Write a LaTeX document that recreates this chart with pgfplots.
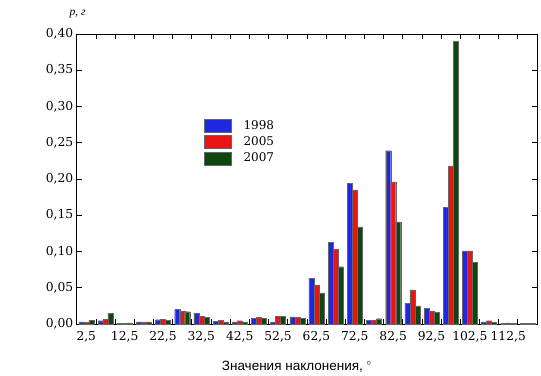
\documentclass[border=0pt]{standalone}
\usepackage{pgfplots}
\pgfplotsset{compat=1.18}
\usepackage{fontspec}
\newfontfamily\cyrsans{Liberation Sans}
\newfontfamily\cyrserif{Liberation Serif}
\newfontfamily\numserif{DejaVu Serif}
\definecolor{cblue}{RGB}{30,40,225}
\definecolor{cred}{RGB}{235,20,20}
\definecolor{cgreen}{RGB}{15,70,15}
\pgfplotstableread{
x b r g
2.5 0.003 0.0025 0.005
7.5 0.0045 0.0065 0.0147
12.5 0.001 0.001 0.0015
17.5 0.003 0.003 0.003
22.5 0.006 0.0065 0.005
27.5 0.020 0.0175 0.017
32.5 0.015 0.011 0.0092
37.5 0.004 0.0055 0.003
42.5 0.003 0.0045 0.003
47.5 0.0075 0.0092 0.0074
52.5 0.003 0.0106 0.0106
57.5 0.010 0.009 0.008
62.5 0.063 0.054 0.043
67.5 0.113 0.103 0.079
72.5 0.194 0.185 0.134
77.5 0.005 0.005 0.0073
82.5 0.239 0.196 0.141
87.5 0.0285 0.047 0.025
92.5 0.0215 0.018 0.016
97.5 0.161 0.218 0.390
102.5 0.101 0.101 0.085
107.5 0.003 0.0045 0.002
112.5 0.001 0.0015 0.001
117.5 0.0005 0.0005 0.0005
}\datatab
\pgfplotsset{mylegend/.style={legend image code/.code={\fill[##1] (0pt,-6.5pt) rectangle (27pt,6.5pt);}}}
\begin{document}
\begin{tikzpicture}
\path[use as bounding box] (0,0) rectangle (541pt,375pt);
\begin{axis}[name=ax,
  at={(76.7pt,51pt)}, anchor=south west,
  scale only axis, width=460.3pt, height=290pt,
  xmin=0, xmax=120, ymin=0, ymax=0.4,
  ybar=0pt, bar width=5pt,
  axis line style={black, line width=0.8pt},
  xtick={0,5,...,120}, xticklabels={},
  extra x ticks={2.5,12.5,22.5,32.5,42.5,52.5,62.5,72.5,82.5,92.5,102.5,112.5},
  extra x tick labels={{2,5},{12,5},{22,5},{32,5},{42,5},{52,5},{62,5},{72,5},{82,5},{92,5},{102,5},{112,5}},
  extra x tick style={major tick length=0pt},
  ytick={0,0.05,0.1,0.15,0.2,0.25,0.3,0.35,0.4},
  yticklabel style={/pgf/number format/.cd, fixed, fixed zerofill, precision=2, use comma},
  /pgf/number format/assume math mode=true,
  tick align=inside, xtick pos=both, ytick pos=both,
  major tick length=5pt,
  tick style={black, line width=0.7pt},
  tick label style={font=\numserif\fontsize{12.3}{15}\selectfont},
  xticklabel style={yshift=-4pt},
  legend style={at={(axis cs:33.2,0.283)}, anchor=north west, draw=none, fill=none,
    font=\numserif\fontsize{12}{15}\selectfont, inner sep=0pt, row sep=3pt, column sep=12pt,
    nodes={inner sep=0pt, text height=10pt, text depth=3pt}},
  legend cell align=left,
]
\addplot[fill=cblue, draw=black!60, line width=0.3pt, mylegend] table[x=x,y=b]{\datatab};
\addplot[fill=cred, draw=black!60, line width=0.3pt, mylegend] table[x=x,y=r]{\datatab};
\addplot[fill=cgreen, draw=black!60, line width=0.3pt, mylegend] table[x=x,y=g]{\datatab};
\legend{1998,2005,2007}
\end{axis}
\node[font=\cyrserif\itshape\fontsize{11.5}{13}\selectfont] at ([xshift=1pt,yshift=20pt]ax.north west) {p, г};
\node[font=\cyrsans\fontsize{13.5}{15}\selectfont] at ([xshift=-10pt,yshift=-43pt]ax.south) {Значения наклонения,~$^{\circ}$};
\end{tikzpicture}
\end{document}
